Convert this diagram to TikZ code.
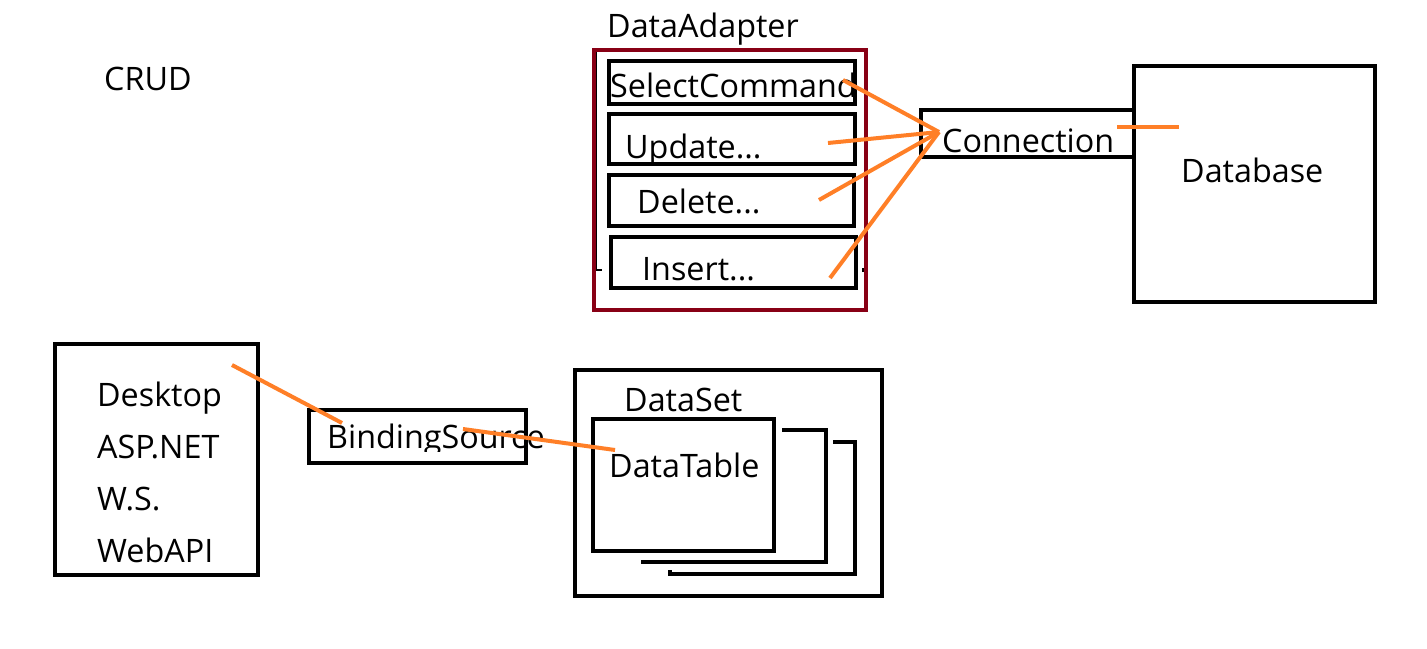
\documentclass[tikz,border=0pt]{standalone}
\usepackage{fontspec}
\setmainfont{Open Sans}
\definecolor{paintred}{RGB}{136,0,21}
\definecolor{paintorange}{RGB}{255,127,39}
\tikzset{
  box/.style={draw=black, line width=4pt, inner sep=0pt, rectangle},
  redbox/.style={draw=paintred, line width=4pt, inner sep=0pt, rectangle},
  lbl/.style={anchor=base west, inner sep=0pt, font=\fontsize{32.3}{32.3}\selectfont},
  wire/.style={draw=paintorange, line width=4pt},
  shadow/.style={draw=black, line width=4pt}
}
\begin{document}
\begin{tikzpicture}[x=1pt,y=-1pt]
\useasboundingbox (0,0) rectangle (1427,648);
% DataAdapter
\node[lbl] (dalbl) at (607,37) {DataAdapter};
\draw[black, line width=2pt] (596,52) -- (596,270) -- (602,270);
\draw[black, line width=4pt] (862,270) -- (866,270);
\node[redbox, minimum width=272pt, minimum height=260pt] (da) at (730,180) {};
\node[lbl] (selt) at (610,97) {SelectCommand};
\node[box, minimum width=246pt, minimum height=43pt] (sel) at (732,82.5) {};
\begin{scope}
\clip (600,100) rectangle (860,161);
\node[lbl] (updt) at (625,158) {Update...};
\end{scope}
\node[box, minimum width=246pt, minimum height=50pt] (upd) at (732,139) {};
\node[lbl] (delt) at (637,213) {Delete...};
\node[box, minimum width=245pt, minimum height=51pt] (del) at (731.5,200.5) {};
\node[lbl] (inst) at (642,280) {Insert...};
\node[box, minimum width=245pt, minimum height=51pt] (ins) at (733.5,262.5) {};
% Connection & Database
\node[lbl] (cont) at (942,152) {Connection};
\node[box, minimum width=213pt, minimum height=47pt] (con) at (1027.5,133.5) {};
\node[box, minimum width=241pt, minimum height=236pt] (db) at (1254.5,184) {};
\node[lbl] (dbt) at (1181,182) {Database};
% CRUD
\node[lbl] (crud) at (104,90) {CRUD};
% clients
\node[box, minimum width=203pt, minimum height=231pt] (cli) at (156.5,459.5) {};
\node[lbl] (c1) at (97,406) {Desktop};
\node[lbl] (c2) at (97,458) {ASP.NET};
\node[lbl] (c3) at (97,510) {W.S.};
\node[lbl] (c4) at (97,562) {WebAPI};
% BindingSource
\begin{scope}
\clip (300,380) rectangle (560,451);
\node[lbl] (bst) at (327,448) {BindingSource};
\end{scope}
\node[box, minimum width=217pt, minimum height=53pt] (bs) at (417.5,436.5) {};
% DataSet
\node[box, minimum width=307pt, minimum height=226pt] (ds) at (728.5,483) {};
\node[lbl] (dst) at (624,411) {DataSet};
\draw[shadow] (782,429.5) -- (825.5,429.5) -- (825.5,561.5) -- (641,561.5);
\draw[shadow] (833,442) -- (855,442) -- (855,574) -- (670,574) -- (670,570);
\node[box, fill=white, minimum width=181pt, minimum height=132pt] (dt) at (683.5,485) {};
\node[lbl] (dtt) at (609,477) {DataTable};
% connectors
\coordinate (selE) at (843,80);
\coordinate (updE) at (828,143);
\coordinate (delE) at (819,200);
\coordinate (insE) at (830,278);
\coordinate (conW) at (939,132);
\coordinate (conE) at (1117,127);
\coordinate (dbW) at (1179,127);
\coordinate (cliE) at (232,365);
\coordinate (bsW) at (342,423);
\coordinate (bsE) at (463,429);
\coordinate (dtW) at (615,450);
\draw[wire] (selE) -- (conW);
\draw[wire] (updE) -- (conW);
\draw[wire] (delE) -- (conW);
\draw[wire] (insE) -- (conW);
\draw[wire] (conE) -- (dbW);
\draw[wire] (cliE) -- (bsW);
\draw[wire] (bsE) -- (dtW);
\end{tikzpicture}
\end{document}
